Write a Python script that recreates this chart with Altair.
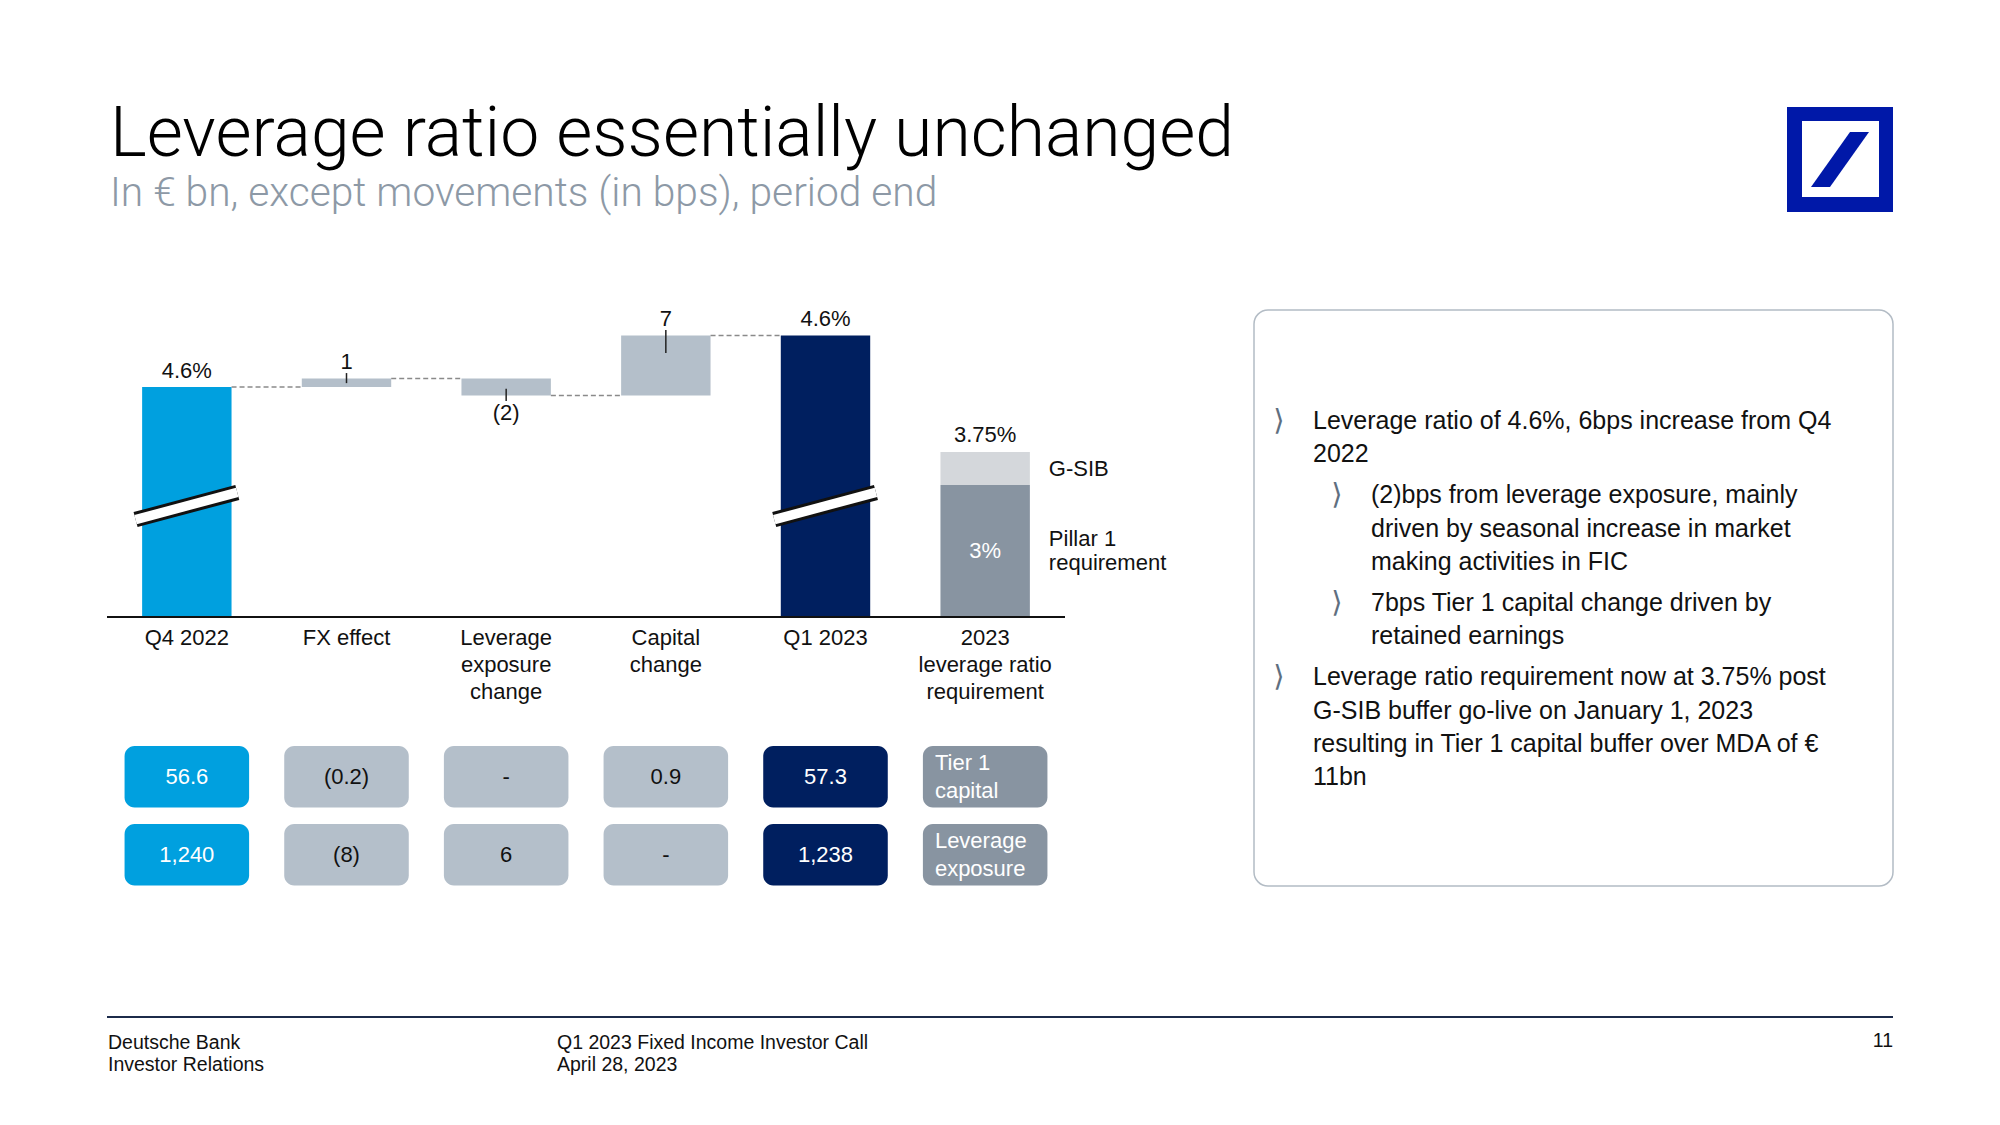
import altair as alt
import pandas as pd

# ---------------- data ----------------
title = "Leverage ratio essentially unchanged"
subtitle = "In € bn, except movements (in bps), period end"

category_lines = [["Q4 2022"], ["FX effect"], ["Leverage", "exposure", "change"],
                  ["Capital", "change"], ["Q1 2023"], ["2023", "leverage ratio", "requirement"]]
ratio_q4_bps = 456
ratio_q1_bps = 462
ratio_labels = ["4.6%", "4.6%"]
movement_bps = [1, -2, 7]
movement_labels = ["1", "(2)", "7"]

req_values = [3.0, 0.75]               # Pillar 1, G-SIB (in %)
req_names = [["Pillar 1", "requirement"], ["G-SIB"]]
req_inner_label = "3%"
req_total_label = "3.75%"

tier1_capital = ["56.6", "(0.2)", "-", "0.9", "57.3"]
leverage_exposure = ["1,240", "(8)", "6", "-", "1,238"]
row_names = [["Tier 1", "capital"], ["Leverage", "exposure"]]

bullets = [
    (0, ["Leverage ratio of 4.6%, 6bps increase from Q4", "2022"]),
    (1, ["(2)bps from leverage exposure, mainly", "driven by seasonal increase in market",
         "making activities in FIC"]),
    (1, ["7bps Tier 1 capital change driven by", "retained earnings"]),
    (0, ["Leverage ratio requirement now at 3.75% post", "G-SIB buffer go-live on January 1, 2023",
         "resulting in Tier 1 capital buffer over MDA of €", "11bn"]),
]
footer_left = ["Deutsche Bank", "Investor Relations"]
footer_mid = ["Q1 2023 Fixed Income Investor Call", "April 28, 2023"]
page_number = "11"

# ---------------- layout / style ----------------
W, H = 958, 318
PAD_L, PAD_T = 107, 299
PX_PER_BP = 8.6
PX_PER_PCT = 44
STEP = W / 6
HALF_BAR = 0.28
HALF_BOX = 0.39
FONT = "Liberation Sans"
DARK = "#111111"
CYAN, NAVY, GREY, LIGHT, SLATE = "#00A0DF", "#001F5F", "#B4BFCA", "#D4D7DB", "#8894A1"
DB_BLUE = "#0018A8"

kind_dom = ["start", "move", "end", "slate", "gsib"]
fill_scale = alt.Scale(domain=kind_dom, range=[CYAN, GREY, NAVY, SLATE, LIGHT])
text_dom = ["light", "dark"]
text_scale = alt.Scale(domain=text_dom, range=["white", DARK])
text_tone = {"start": "light", "move": "dark", "end": "light", "slate": "light", "gsib": "dark"}

xs = alt.Scale(domain=[-0.5, 5.5], nice=False, zero=False)
Y0 = ratio_q4_bps - 230 / PX_PER_BP
ys = alt.Scale(domain=[Y0, Y0 + H / PX_PER_BP], nice=False, zero=False)
ys_req = alt.Scale(domain=[0, H / PX_PER_PCT], nice=False, zero=True)


def X(f):
    return alt.X(f, type="quantitative", scale=xs, axis=None)


def YB(f):
    return alt.Y(f, type="quantitative", scale=ys, axis=None)


def YR(f):
    return alt.Y(f, type="quantitative", scale=ys_req, axis=None)


def PY(f):
    return alt.Y(f, type="quantitative", scale=None, axis=None)


def PX(f):
    return alt.X(f, type="quantitative", scale=None, axis=None)


one = pd.DataFrame({"k": [0]})
layers = []

# ---- right panel box ----
layers.append(alt.Chart(one).mark_rect(cornerRadius=14, fill="white", stroke="#b3bcc5", strokeWidth=1.5).encode(
    x=alt.value(1147), x2=alt.value(1786), y=alt.value(11), y2=alt.value(587)))

# ---- title & subtitle ----
layers.append(alt.Chart(one).mark_text(align="left", baseline="alphabetic", font="Roboto", fontWeight=300,
                                       fontSize=69.7, color="#000000").encode(
    x=alt.value(3), y=alt.value(-143), text=alt.value(title)))
layers.append(alt.Chart(one).mark_text(align="left", baseline="alphabetic", font="Roboto", fontWeight=300,
                                       fontSize=40.7, color="#8d99a6").encode(
    x=alt.value(3), y=alt.value(-93), text=alt.value(subtitle)))

# ---- logo ----
layers.append(alt.Chart(one).mark_rect(color=DB_BLUE).encode(
    x=alt.value(1680), x2=alt.value(1786), y=alt.value(-192), y2=alt.value(-87)))
layers.append(alt.Chart(one).mark_rect(color="white").encode(
    x=alt.value(1695), x2=alt.value(1772), y=alt.value(-178), y2=alt.value(-102)))
slash = "M -1 0.948 L -0.345 0.948 L 1 -0.948 L 0.345 -0.948 Z"
layers.append(alt.Chart(one).mark_point(shape=slash, size=3364, filled=True, color=DB_BLUE,
                                        opacity=1, strokeWidth=0).encode(
    x=alt.value(1733), y=alt.value(-139.5)))

# ---- waterfall data ----
levels = [ratio_q4_bps]
for m in movement_bps:
    levels.append(levels[-1] + m)
wf = [dict(i=0, lo=Y0, hi=ratio_q4_bps, kind="start")]
for j, m in enumerate(movement_bps):
    wf.append(dict(i=j + 1, lo=min(levels[j], levels[j + 1]), hi=max(levels[j], levels[j + 1]), kind="move"))
wf.append(dict(i=4, lo=Y0, hi=ratio_q1_bps, kind="end"))
wf = pd.DataFrame(wf)
wf["xl"] = wf.i - HALF_BAR
wf["xr"] = wf.i + HALF_BAR

layers.append(alt.Chart(wf).mark_rect().encode(
    x=X("xl"), x2=alt.X2("xr"), y=YB("lo"), y2=alt.Y2("hi"),
    color=alt.Color("kind:N", scale=fill_scale, legend=None)))

# connectors
con = pd.DataFrame([dict(x1=j + HALF_BAR, x2=j + 1 - HALF_BAR, lv=levels[j]) for j in range(4)])
layers.append(alt.Chart(con).mark_rule(strokeDash=[5, 3], color="#8a8a8a", strokeWidth=1.5).encode(
    x=X("x1"), x2=alt.X2("x2"), y=YB("lv")))

# small marker ticks
tk = []
for j, m in enumerate(movement_bps):
    end = levels[j + 1]
    inside = 0.3 + 0.25 * abs(m)
    if m > 0:
        tk.append(dict(i=j + 1, a=end + 0.62, b=end - inside))
    else:
        tk.append(dict(i=j + 1, a=end - 0.62, b=end + inside))
layers.append(alt.Chart(pd.DataFrame(tk)).mark_rule(color="#222222", strokeWidth=1.5).encode(
    x=X("i"), y=YB("a"), y2=alt.Y2("b")))

# axis break marks
yc = Y0 + 111 / PX_PER_BP
dyb = 13.6 / PX_PER_BP
brk = pd.DataFrame([dict(xa=i - 0.321, xb=i + 0.316, ya=yc - dyb, yb=yc + dyb) for i in (0, 4)])
layers.append(alt.Chart(brk).mark_rule(color="#111111", strokeWidth=15.5, strokeCap="butt").encode(
    x=X("xa"), x2=alt.X2("xb"), y=YB("ya"), y2=alt.Y2("yb")))
layers.append(alt.Chart(brk).mark_rule(color="white", strokeWidth=9.4, strokeCap="butt").encode(
    x=X("xa"), x2=alt.X2("xb"), y=YB("ya"), y2=alt.Y2("yb")))

# value labels
above = [dict(i=0, v=ratio_q4_bps, t=ratio_labels[0]), dict(i=4, v=ratio_q1_bps, t=ratio_labels[1])]
below = []
for j, m in enumerate(movement_bps):
    if m > 0:
        above.append(dict(i=j + 1, v=max(levels[j], levels[j + 1]), t=movement_labels[j]))
    else:
        below.append(dict(i=j + 1, v=min(levels[j], levels[j + 1]), t=movement_labels[j]))
layers.append(alt.Chart(pd.DataFrame(above)).mark_text(baseline="alphabetic", dy=-9.5, font=FONT,
                                                       fontSize=22, color=DARK).encode(
    x=X("i"), y=YB("v"), text=alt.Text("t:N")))
layers.append(alt.Chart(pd.DataFrame(below)).mark_text(baseline="alphabetic", dy=24.5, font=FONT,
                                                       fontSize=22, color=DARK).encode(
    x=X("i"), y=YB("v"), text=alt.Text("t:N")))

# ---- requirement bar ----
req = pd.DataFrame([dict(lo=0, hi=req_values[0], kind="slate"),
                    dict(lo=req_values[0], hi=req_values[0] + req_values[1], kind="gsib")])
req["xl"] = 5 - HALF_BAR
req["xr"] = 5 + HALF_BAR
layers.append(alt.Chart(req).mark_rect().encode(
    x=X("xl"), x2=alt.X2("xr"), y=YR("lo"), y2=alt.Y2("hi"),
    color=alt.Color("kind:N", scale=fill_scale, legend=None)))
req_total = sum(req_values)
layers.append(alt.Chart(pd.DataFrame([dict(i=5, v=req_total, t=req_total_label)])).mark_text(
    baseline="alphabetic", dy=-10, font=FONT, fontSize=22, color=DARK).encode(
    x=X("i"), y=YR("v"), text=alt.Text("t:N")))
layers.append(alt.Chart(pd.DataFrame([dict(i=5, v=req_values[0] / 2, t=req_inner_label)])).mark_text(
    baseline="middle", font=FONT, fontSize=22, color="white").encode(
    x=X("i"), y=YR("v"), text=alt.Text("t:N")))
seg_rows = []
mids = [req_values[0] / 2, req_values[0] + req_values[1] / 2]
for s, lines in enumerate(req_names):
    n = len(lines)
    for k, line in enumerate(lines):
        seg_rows.append(dict(x=5 + HALF_BAR + 19 / STEP,
                             v=mids[s] - (k - (n - 1) / 2) * 24.5 / PX_PER_PCT, t=line))
layers.append(alt.Chart(pd.DataFrame(seg_rows)).mark_text(align="left", baseline="middle", font=FONT,
                                                          fontSize=22, color=DARK).encode(
    x=X("x"), y=YR("v"), text=alt.Text("t:N")))

# ---- baseline axis ----
layers.append(alt.Chart(one).mark_rule(color="#111111", strokeWidth=2).encode(
    x=alt.value(0), x2=alt.value(W), y=alt.value(H)))

# ---- category labels ----
cat_rows = []
for i, lines in enumerate(category_lines):
    for k, line in enumerate(lines):
        cat_rows.append(dict(i=i, py=H + 20.5 + k * 27, t=line))
layers.append(alt.Chart(pd.DataFrame(cat_rows)).mark_text(baseline="middle", font=FONT, fontSize=22,
                                                          color=DARK).encode(
    x=X("i"), y=PY("py"), text=alt.Text("t:N")))

# ---- table ----
TABLE_TOP, ROW_H, ROW_PITCH = 447, 61.5, 78
col_kind = ["start", "move", "move", "move", "end"]
cells, cell_txt, name_txt = [], [], []
for r, vals in enumerate([tier1_capital, leverage_exposure]):
    top = TABLE_TOP + r * ROW_PITCH
    mid = top + ROW_H / 2
    for c, v in enumerate(vals):
        cells.append(dict(xl=c - HALF_BOX, xr=c + HALF_BOX, yt=top, yb=top + ROW_H, kind=col_kind[c]))
        cell_txt.append(dict(i=c, py=mid, t=v, tone=text_tone[col_kind[c]]))
    cells.append(dict(xl=5 - HALF_BOX, xr=5 + HALF_BOX, yt=top, yb=top + ROW_H, kind="slate"))
    n = len(row_names[r])
    for k, line in enumerate(row_names[r]):
        name_txt.append(dict(x=5 - HALF_BOX + 12 / STEP, py=mid + (k - (n - 1) / 2) * 28, t=line))
layers.append(alt.Chart(pd.DataFrame(cells)).mark_rect(cornerRadius=10).encode(
    x=X("xl"), x2=alt.X2("xr"), y=PY("yt"), y2=alt.Y2("yb"),
    color=alt.Color("kind:N", scale=fill_scale, legend=None)))
layers.append(alt.Chart(pd.DataFrame(cell_txt)).mark_text(baseline="middle", font=FONT, fontSize=22).encode(
    x=X("i"), y=PY("py"), text=alt.Text("t:N"),
    color=alt.Color("tone:N", scale=text_scale, legend=None)))
layers.append(alt.Chart(pd.DataFrame(name_txt)).mark_text(align="left", baseline="middle", font=FONT,
                                                          fontSize=22, color="white").encode(
    x=X("x"), y=PY("py"), text=alt.Text("t:N")))

# ---- bullet text ----
LINE_H, PARA_GAP = 33.2, 8
bl_rows, ch_rows = [], []
yy = 122
for level, lines in bullets:
    tx = 1206 + level * 58
    ch_rows.append(dict(px=tx - 34, py=yy))
    for k, line in enumerate(lines):
        bl_rows.append(dict(px=tx, py=yy, t=line))
        yy += LINE_H
    yy += PARA_GAP
layers.append(alt.Chart(pd.DataFrame(bl_rows)).mark_text(align="left", baseline="middle", font=FONT,
                                                         fontSize=25, color=DARK).encode(
    x=PX("px"), y=PY("py"), text=alt.Text("t:N")))
layers.append(alt.Chart(pd.DataFrame(ch_rows)).mark_text(align="center", baseline="middle", font="DejaVu Sans",
                                                         fontSize=29, color="#5f6f80").encode(
    x=PX("px"), y=PY("py"), text=alt.value("⟩")))

# ---- footer ----
layers.append(alt.Chart(one).mark_rule(color="#1c2b4a", strokeWidth=2).encode(
    x=alt.value(0), x2=alt.value(1786), y=alt.value(718)))
ft = []
for k, line in enumerate(footer_left):
    ft.append(dict(px=1, py=750 + k * 22, t=line))
for k, line in enumerate(footer_mid):
    ft.append(dict(px=450, py=750 + k * 22, t=line))
layers.append(alt.Chart(pd.DataFrame(ft)).mark_text(align="left", baseline="alphabetic", font=FONT,
                                                    fontSize=19.5, color=DARK).encode(
    x=PX("px"), y=PY("py"), text=alt.Text("t:N")))
layers.append(alt.Chart(one).mark_text(align="right", baseline="alphabetic", font=FONT,
                                       fontSize=19.5, color=DARK).encode(
    x=alt.value(1786), y=alt.value(748), text=alt.value(page_number)))

chart = alt.layer(*layers).resolve_scale(x="independent", y="independent", color="independent").properties(
    width=W, height=H,
    padding={"left": PAD_L, "top": PAD_T, "right": 2000 - PAD_L - W, "bottom": 1125 - PAD_T - H},
    autosize=alt.AutoSizeParams(type="none"),
    background="white",
).configure_view(stroke=None)

chart.save("out.html", embed_options={"renderer": "svg", "actions": False})
